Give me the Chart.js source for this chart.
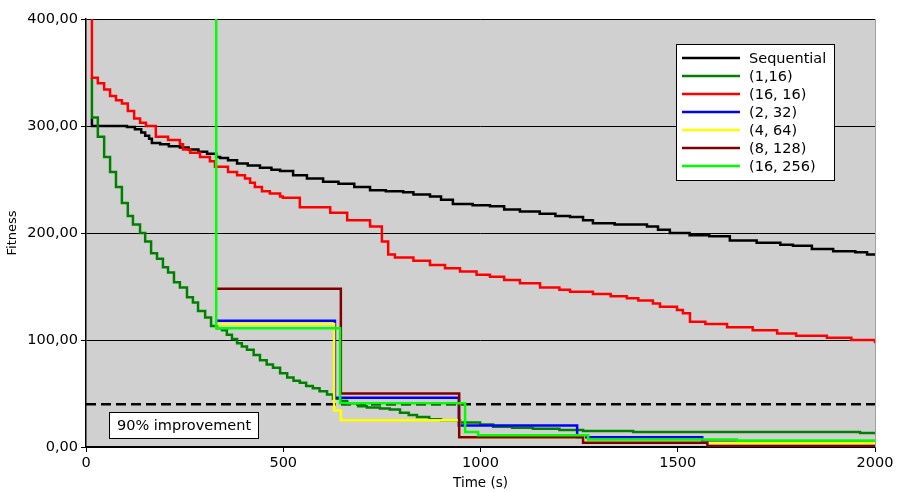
<!DOCTYPE html>
<html>
<head>
<meta charset="utf-8">
<title>Fitness over time</title>
<script src="https://cdn.jsdelivr.net/npm/chart.js@4.4.1/dist/chart.umd.min.js"></script>
<style>
    html, body { margin: 0; padding: 0; background: #ffffff; }
    #chart { display: block; }
</style>
</head>
<body>
<canvas id="chart" width="897" height="492"></canvas>
<script>
// Fitness vs. time, one step series per configuration
// Each series: [time (s), fitness]

const seriesNames = ['Sequential', '(1,16)', '(16, 16)', '(2, 32)', '(4, 64)', '(8, 128)', '(16, 256)'];
const seriesColors = ['#000000', '#008000', '#ff0000', '#0000ff', '#ffff00', '#800000', '#00ff00'];

const sequential = [
    [15, 307], [15, 300], [104, 299], [124, 297], [140, 294], [150, 291], [160, 288], [167, 284],
    [188, 283], [210, 281], [238, 280], [260, 278], [285, 276], [307, 274], [330, 271], [340, 270],
    [360, 268], [383, 265], [410, 263], [441, 261], [470, 259], [492, 258], [525, 254], [560, 251],
    [601, 248], [640, 246], [680, 243], [720, 240], [760, 239], [804, 238], [830, 236], [872, 234],
    [900, 231], [930, 227], [980, 226], [1024, 225], [1060, 222], [1100, 220], [1150, 218], [1190, 216],
    [1227, 215], [1260, 212], [1285, 209], [1340, 208], [1422, 206], [1450, 203], [1480, 200], [1530, 198],
    [1580, 197], [1632, 193], [1700, 191], [1760, 189], [1792, 188], [1840, 185], [1894, 183], [1950, 182],
    [1980, 180], [2000, 179]
];

const run1x16 = [
    [15, 345], [15, 308], [30, 290], [46, 271], [61, 257], [76, 243], [91, 228], [106, 216],
    [119, 208], [137, 200], [150, 192], [165, 181], [180, 176], [195, 168], [208, 163], [223, 154],
    [238, 149], [256, 140], [271, 135], [284, 127], [302, 121], [317, 113], [332, 111], [345, 109],
    [357, 105], [370, 101], [383, 97], [395, 94], [408, 91], [425, 86], [441, 81], [458, 77],
    [474, 74], [492, 69], [510, 65], [526, 62], [542, 60], [558, 57], [575, 55], [592, 52],
    [611, 49], [626, 45], [645, 43], [662, 41], [690, 38], [712, 37], [745, 36], [770, 35],
    [796, 32], [818, 30], [839, 28], [870, 26], [900, 25], [948, 23], [999, 21], [1032, 19],
    [1080, 18], [1133, 17], [1200, 16], [1260, 15], [1387, 14], [1962, 13], [2000, 13]
];

const run16x16 = [
    [15, 400], [15, 345], [30, 340], [46, 334], [61, 328], [76, 324], [91, 321], [106, 314],
    [122, 307], [137, 303], [152, 300], [177, 290], [208, 287], [238, 283], [246, 278], [264, 275],
    [289, 271], [314, 267], [327, 262], [360, 257], [383, 254], [403, 251], [416, 247], [428, 243],
    [446, 239], [466, 237], [492, 234], [499, 233], [542, 224], [619, 219], [662, 212], [720, 206],
    [750, 192], [766, 180], [783, 177], [830, 174], [872, 170], [910, 167], [948, 164], [990, 161],
    [1024, 159], [1060, 156], [1100, 153], [1151, 149], [1200, 147], [1227, 145], [1285, 143], [1330, 141],
    [1371, 139], [1400, 137], [1437, 134], [1455, 131], [1498, 128], [1513, 125], [1531, 117], [1570, 115],
    [1625, 112], [1690, 109], [1752, 106], [1800, 104], [1878, 102], [1940, 100], [2000, 97]
];

const run2x32 = [[332, 118], [631, 46], [945, 20], [1245, 9], [1562, 5], [2000, 5]];
const run4x64 = [[332, 115], [629, 34], [646, 25], [946, 9], [1262, 4], [2000, 4]];
const run8x128 = [[332, 148], [646, 50], [946, 9], [1260, 4], [1575, 1], [2000, 1]];
const run16x256 = [[330, 400], [330, 111], [644, 41], [961, 14], [994, 11], [1273, 7], [1650, 6], [2000, 6]];

const seriesData = [sequential, run1x16, run16x16, run2x32, run4x64, run8x128, run16x256];

// 90% improvement threshold
const thresholdLine = [[0, 40], [2000, 40]];
const thresholdLabel = '90% improvement';

const xTickLabels = ['0', '500', '1000', '1500', '2000'];
const yTickLabels = ['0,00', '100,00', '200,00', '300,00', '400,00'];

const FONT = 'DejaVu Sans';

// Plot background, frame, legend box and threshold label
const decorPlugin = {
    id: 'decor',
    beforeDraw(chart) {
        const { ctx, chartArea: a } = chart;
        ctx.save();
        ctx.fillStyle = '#d0d0d0';
        ctx.fillRect(a.left, a.top, a.right - a.left, a.bottom - a.top);
        ctx.restore();
    },
    afterDraw(chart) {
        const { ctx, chartArea: a } = chart;
        ctx.save();

        // right frame edge
        ctx.strokeStyle = '#a0a0a0';
        ctx.lineWidth = 1;
        ctx.beginPath();
        ctx.moveTo(a.right + 0.5, a.top);
        ctx.lineTo(a.right + 0.5, a.bottom);
        ctx.stroke();

        // legend
        const bx = a.right - 199, by = a.top + 25, bw = 158, bh = 136;
        ctx.fillStyle = '#ffffff';
        ctx.fillRect(bx, by, bw, bh);
        ctx.strokeStyle = '#000000';
        ctx.lineWidth = 1;
        ctx.strokeRect(bx + 0.5, by + 0.5, bw, bh);
        ctx.font = '14.5px "' + FONT + '"';
        ctx.textBaseline = 'middle';
        ctx.textAlign = 'left';
        seriesNames.forEach((name, i) => {
            const y = by + 14 + i * 18;
            ctx.strokeStyle = seriesColors[i];
            ctx.lineWidth = 2.5;
            ctx.beginPath();
            ctx.moveTo(bx + 6, y);
            ctx.lineTo(bx + 64, y);
            ctx.stroke();
            ctx.fillStyle = '#000000';
            ctx.fillText(name, bx + 73, y + 1);
        });

        // threshold label
        const lx = a.left + 23, ly = a.bottom - 35;
        ctx.fillStyle = '#ffffff';
        ctx.fillRect(lx, ly, 149, 26);
        ctx.strokeStyle = '#000000';
        ctx.lineWidth = 1;
        ctx.strokeRect(lx + 0.5, ly + 0.5, 149, 26);
        ctx.fillStyle = '#000000';
        ctx.textAlign = 'center';
        ctx.fillText(thresholdLabel, lx + 75, ly + 14);

        ctx.restore();
    }
};

const datasets = seriesData.map((pts, i) => ({
    label: seriesNames[i],
    data: pts.map(p => ({ x: p[0], y: p[1] })),
    borderColor: seriesColors[i],
    backgroundColor: seriesColors[i],
    borderWidth: 2.5,
    stepped: true,
    pointRadius: 0,
    fill: false,
    order: seriesNames.length - i
}));

datasets.push({
    label: thresholdLabel,
    data: thresholdLine.map(p => ({ x: p[0], y: p[1] })),
    borderColor: '#000000',
    borderWidth: 2.5,
    borderDash: [10, 5],
    pointRadius: 0,
    fill: false,
    order: 20
});

new Chart(document.getElementById('chart').getContext('2d'), {
    type: 'line',
    data: { datasets },
    plugins: [decorPlugin],
    options: {
        responsive: false,
        animation: false,
        layout: { padding: { left: 0, right: 22, top: 19, bottom: 0 } },
        plugins: {
            legend: { display: false },
            tooltip: { enabled: false }
        },
        scales: {
            x: {
                type: 'linear',
                min: 0,
                max: 2000,
                afterFit: (scale) => { scale.height = 45; },
                ticks: {
                    stepSize: 500,
                    color: '#000000',
                    padding: 3,
                    maxRotation: 0,
                    font: { family: FONT, size: 14.5 },
                    callback: (v, i) => xTickLabels[i]
                },
                grid: { drawOnChartArea: false, drawTicks: true, tickLength: 5, color: '#000000' },
                border: { color: '#000000', width: 1.5 },
                title: {
                    display: true,
                    text: 'Time (s)',
                    color: '#000000',
                    padding: { top: 0, bottom: 0 },
                    font: { family: FONT, size: 13.5 }
                }
            },
            y: {
                min: 0,
                max: 400,
                afterFit: (scale) => { scale.width = 86; },
                ticks: {
                    stepSize: 100,
                    color: '#000000',
                    padding: 3,
                    font: { family: FONT, size: 14.5 },
                    callback: (v, i) => yTickLabels[i]
                },
                grid: { color: '#000000', lineWidth: 1, tickLength: 5 },
                border: { color: '#000000', width: 1.5 },
                title: {
                    display: true,
                    text: 'Fitness',
                    color: '#000000',
                    padding: { top: 5, bottom: 0 },
                    font: { family: FONT, size: 13 }
                }
            }
        }
    }
});
</script>
</body>
</html>
